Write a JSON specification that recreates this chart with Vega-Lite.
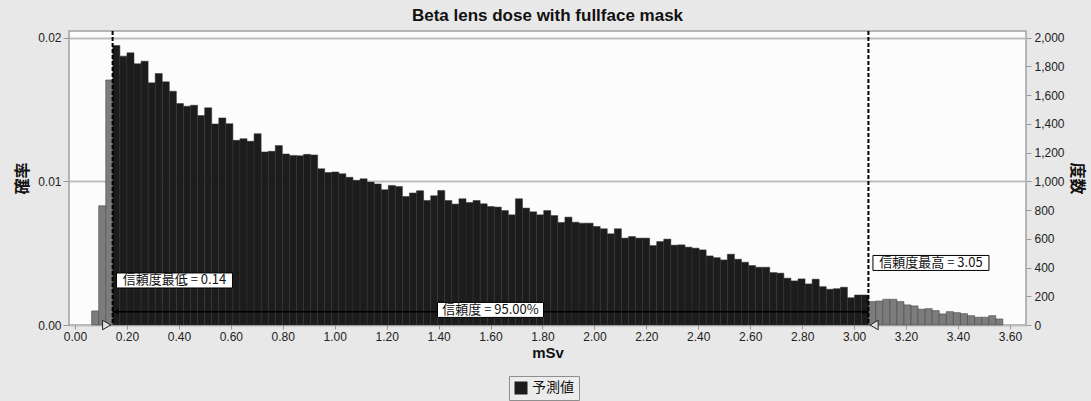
{
  "$schema": "https://vega.github.io/schema/vega-lite/v6.json",
  "autosize": {"type": "none"},
  "padding": {"left": 69, "top": 31, "right": 65, "bottom": 76},
  "width": 957,
  "height": 294,
  "background": "#e8e8e8",
  "title": {"text": "Beta lens dose with fullface mask", "font": "Liberation Sans", "fontSize": 17, "fontWeight": "bold", "color": "#111", "anchor": "middle", "offset": 5},
  "config": {
    "view": {"stroke": "#a0a0a0", "strokeWidth": 1.5, "fill": "#fcfcfc"},
    "axis": {"labelFont": "Liberation Sans", "labelFontSize": 12, "labelColor": "#222", "tickColor": "#999", "domain": false, "titleColor": "#111"}
  },
  "datasets": {
    "bins": [
      {"x0": 0.0640, "x1": 0.0912, "n": 98, "seg": "out", "series": "予測値"},
      {"x0": 0.0912, "x1": 0.1184, "n": 830, "seg": "out", "series": "予測値"},
      {"x0": 0.1184, "x1": 0.1456, "n": 1706, "seg": "out", "series": "予測値"},
      {"x0": 0.1456, "x1": 0.1728, "n": 1946, "seg": "in", "series": "予測値"},
      {"x0": 0.1728, "x1": 0.2000, "n": 1872, "seg": "in", "series": "予測値"},
      {"x0": 0.2000, "x1": 0.2272, "n": 1895, "seg": "in", "series": "予測値"},
      {"x0": 0.2272, "x1": 0.2544, "n": 1819, "seg": "in", "series": "予測値"},
      {"x0": 0.2544, "x1": 0.2816, "n": 1837, "seg": "in", "series": "予測値"},
      {"x0": 0.2816, "x1": 0.3088, "n": 1686, "seg": "in", "series": "予測値"},
      {"x0": 0.3088, "x1": 0.3360, "n": 1751, "seg": "in", "series": "予測値"},
      {"x0": 0.3360, "x1": 0.3632, "n": 1693, "seg": "in", "series": "予測値"},
      {"x0": 0.3632, "x1": 0.3904, "n": 1628, "seg": "in", "series": "予測値"},
      {"x0": 0.3904, "x1": 0.4176, "n": 1542, "seg": "in", "series": "予測値"},
      {"x0": 0.4176, "x1": 0.4448, "n": 1523, "seg": "in", "series": "予測値"},
      {"x0": 0.4448, "x1": 0.4720, "n": 1530, "seg": "in", "series": "予測値"},
      {"x0": 0.4720, "x1": 0.4992, "n": 1458, "seg": "in", "series": "予測値"},
      {"x0": 0.4992, "x1": 0.5264, "n": 1512, "seg": "in", "series": "予測値"},
      {"x0": 0.5264, "x1": 0.5536, "n": 1400, "seg": "in", "series": "予測値"},
      {"x0": 0.5536, "x1": 0.5808, "n": 1442, "seg": "in", "series": "予測値"},
      {"x0": 0.5808, "x1": 0.6080, "n": 1402, "seg": "in", "series": "予測値"},
      {"x0": 0.6080, "x1": 0.6352, "n": 1286, "seg": "in", "series": "予測値"},
      {"x0": 0.6352, "x1": 0.6624, "n": 1297, "seg": "in", "series": "予測値"},
      {"x0": 0.6624, "x1": 0.6896, "n": 1279, "seg": "in", "series": "予測値"},
      {"x0": 0.6896, "x1": 0.7168, "n": 1332, "seg": "in", "series": "予測値"},
      {"x0": 0.7168, "x1": 0.7440, "n": 1205, "seg": "in", "series": "予測値"},
      {"x0": 0.7440, "x1": 0.7712, "n": 1209, "seg": "in", "series": "予測値"},
      {"x0": 0.7712, "x1": 0.7984, "n": 1249, "seg": "in", "series": "予測値"},
      {"x0": 0.7984, "x1": 0.8256, "n": 1191, "seg": "in", "series": "予測値"},
      {"x0": 0.8256, "x1": 0.8528, "n": 1181, "seg": "in", "series": "予測値"},
      {"x0": 0.8528, "x1": 0.8800, "n": 1179, "seg": "in", "series": "予測値"},
      {"x0": 0.8800, "x1": 0.9072, "n": 1188, "seg": "in", "series": "予測値"},
      {"x0": 0.9072, "x1": 0.9344, "n": 1184, "seg": "in", "series": "予測値"},
      {"x0": 0.9344, "x1": 0.9616, "n": 1088, "seg": "in", "series": "予測値"},
      {"x0": 0.9616, "x1": 0.9888, "n": 1062, "seg": "in", "series": "予測値"},
      {"x0": 0.9888, "x1": 1.0160, "n": 1065, "seg": "in", "series": "予測値"},
      {"x0": 1.0160, "x1": 1.0432, "n": 1053, "seg": "in", "series": "予測値"},
      {"x0": 1.0432, "x1": 1.0704, "n": 1028, "seg": "in", "series": "予測値"},
      {"x0": 1.0704, "x1": 1.0976, "n": 1007, "seg": "in", "series": "予測値"},
      {"x0": 1.0976, "x1": 1.1248, "n": 1018, "seg": "in", "series": "予測値"},
      {"x0": 1.1248, "x1": 1.1520, "n": 995, "seg": "in", "series": "予測値"},
      {"x0": 1.1520, "x1": 1.1792, "n": 982, "seg": "in", "series": "予測値"},
      {"x0": 1.1792, "x1": 1.2064, "n": 942, "seg": "in", "series": "予測値"},
      {"x0": 1.2064, "x1": 1.2336, "n": 972, "seg": "in", "series": "予測値"},
      {"x0": 1.2336, "x1": 1.2608, "n": 965, "seg": "in", "series": "予測値"},
      {"x0": 1.2608, "x1": 1.2880, "n": 895, "seg": "in", "series": "予測値"},
      {"x0": 1.2880, "x1": 1.3152, "n": 919, "seg": "in", "series": "予測値"},
      {"x0": 1.3152, "x1": 1.3424, "n": 935, "seg": "in", "series": "予測値"},
      {"x0": 1.3424, "x1": 1.3696, "n": 867, "seg": "in", "series": "予測値"},
      {"x0": 1.3696, "x1": 1.3968, "n": 900, "seg": "in", "series": "予測値"},
      {"x0": 1.3968, "x1": 1.4240, "n": 937, "seg": "in", "series": "予測値"},
      {"x0": 1.4240, "x1": 1.4512, "n": 867, "seg": "in", "series": "予測値"},
      {"x0": 1.4512, "x1": 1.4784, "n": 842, "seg": "in", "series": "予測値"},
      {"x0": 1.4784, "x1": 1.5056, "n": 879, "seg": "in", "series": "予測値"},
      {"x0": 1.5056, "x1": 1.5328, "n": 853, "seg": "in", "series": "予測値"},
      {"x0": 1.5328, "x1": 1.5600, "n": 867, "seg": "in", "series": "予測値"},
      {"x0": 1.5600, "x1": 1.5872, "n": 844, "seg": "in", "series": "予測値"},
      {"x0": 1.5872, "x1": 1.6144, "n": 825, "seg": "in", "series": "予測値"},
      {"x0": 1.6144, "x1": 1.6416, "n": 821, "seg": "in", "series": "予測値"},
      {"x0": 1.6416, "x1": 1.6688, "n": 797, "seg": "in", "series": "予測値"},
      {"x0": 1.6688, "x1": 1.6960, "n": 767, "seg": "in", "series": "予測値"},
      {"x0": 1.6960, "x1": 1.7232, "n": 879, "seg": "in", "series": "予測値"},
      {"x0": 1.7232, "x1": 1.7504, "n": 814, "seg": "in", "series": "予測値"},
      {"x0": 1.7504, "x1": 1.7776, "n": 788, "seg": "in", "series": "予測値"},
      {"x0": 1.7776, "x1": 1.8048, "n": 767, "seg": "in", "series": "予測値"},
      {"x0": 1.8048, "x1": 1.8320, "n": 797, "seg": "in", "series": "予測値"},
      {"x0": 1.8320, "x1": 1.8592, "n": 762, "seg": "in", "series": "予測値"},
      {"x0": 1.8592, "x1": 1.8864, "n": 714, "seg": "in", "series": "予測値"},
      {"x0": 1.8864, "x1": 1.9136, "n": 751, "seg": "in", "series": "予測値"},
      {"x0": 1.9136, "x1": 1.9408, "n": 716, "seg": "in", "series": "予測値"},
      {"x0": 1.9408, "x1": 1.9680, "n": 709, "seg": "in", "series": "予測値"},
      {"x0": 1.9680, "x1": 1.9952, "n": 709, "seg": "in", "series": "予測値"},
      {"x0": 1.9952, "x1": 2.0224, "n": 686, "seg": "in", "series": "予測値"},
      {"x0": 2.0224, "x1": 2.0496, "n": 670, "seg": "in", "series": "予測値"},
      {"x0": 2.0496, "x1": 2.0768, "n": 635, "seg": "in", "series": "予測値"},
      {"x0": 2.0768, "x1": 2.1040, "n": 670, "seg": "in", "series": "予測値"},
      {"x0": 2.1040, "x1": 2.1312, "n": 605, "seg": "in", "series": "予測値"},
      {"x0": 2.1312, "x1": 2.1584, "n": 616, "seg": "in", "series": "予測値"},
      {"x0": 2.1584, "x1": 2.1856, "n": 605, "seg": "in", "series": "予測値"},
      {"x0": 2.1856, "x1": 2.2128, "n": 605, "seg": "in", "series": "予測値"},
      {"x0": 2.2128, "x1": 2.2400, "n": 553, "seg": "in", "series": "予測値"},
      {"x0": 2.2400, "x1": 2.2672, "n": 581, "seg": "in", "series": "予測値"},
      {"x0": 2.2672, "x1": 2.2944, "n": 598, "seg": "in", "series": "予測値"},
      {"x0": 2.2944, "x1": 2.3216, "n": 556, "seg": "in", "series": "予測値"},
      {"x0": 2.3216, "x1": 2.3488, "n": 558, "seg": "in", "series": "予測値"},
      {"x0": 2.3488, "x1": 2.3760, "n": 542, "seg": "in", "series": "予測値"},
      {"x0": 2.3760, "x1": 2.4032, "n": 535, "seg": "in", "series": "予測値"},
      {"x0": 2.4032, "x1": 2.4304, "n": 523, "seg": "in", "series": "予測値"},
      {"x0": 2.4304, "x1": 2.4576, "n": 481, "seg": "in", "series": "予測値"},
      {"x0": 2.4576, "x1": 2.4848, "n": 469, "seg": "in", "series": "予測値"},
      {"x0": 2.4848, "x1": 2.5120, "n": 453, "seg": "in", "series": "予測値"},
      {"x0": 2.5120, "x1": 2.5392, "n": 493, "seg": "in", "series": "予測値"},
      {"x0": 2.5392, "x1": 2.5664, "n": 458, "seg": "in", "series": "予測値"},
      {"x0": 2.5664, "x1": 2.5936, "n": 437, "seg": "in", "series": "予測値"},
      {"x0": 2.5936, "x1": 2.6208, "n": 414, "seg": "in", "series": "予測値"},
      {"x0": 2.6208, "x1": 2.6480, "n": 402, "seg": "in", "series": "予測値"},
      {"x0": 2.6480, "x1": 2.6752, "n": 402, "seg": "in", "series": "予測値"},
      {"x0": 2.6752, "x1": 2.7024, "n": 365, "seg": "in", "series": "予測値"},
      {"x0": 2.7024, "x1": 2.7296, "n": 361, "seg": "in", "series": "予測値"},
      {"x0": 2.7296, "x1": 2.7568, "n": 326, "seg": "in", "series": "予測値"},
      {"x0": 2.7568, "x1": 2.7840, "n": 307, "seg": "in", "series": "予測値"},
      {"x0": 2.7840, "x1": 2.8112, "n": 321, "seg": "in", "series": "予測値"},
      {"x0": 2.8112, "x1": 2.8384, "n": 286, "seg": "in", "series": "予測値"},
      {"x0": 2.8384, "x1": 2.8656, "n": 319, "seg": "in", "series": "予測値"},
      {"x0": 2.8656, "x1": 2.8928, "n": 267, "seg": "in", "series": "予測値"},
      {"x0": 2.8928, "x1": 2.9200, "n": 249, "seg": "in", "series": "予測値"},
      {"x0": 2.9200, "x1": 2.9472, "n": 253, "seg": "in", "series": "予測値"},
      {"x0": 2.9472, "x1": 2.9744, "n": 263, "seg": "in", "series": "予測値"},
      {"x0": 2.9744, "x1": 3.0016, "n": 190, "seg": "in", "series": "予測値"},
      {"x0": 3.0016, "x1": 3.0288, "n": 209, "seg": "in", "series": "予測値"},
      {"x0": 3.0288, "x1": 3.0560, "n": 209, "seg": "in", "series": "予測値"},
      {"x0": 3.0560, "x1": 3.0832, "n": 163, "seg": "out", "series": "予測値"},
      {"x0": 3.0832, "x1": 3.1104, "n": 167, "seg": "out", "series": "予測値"},
      {"x0": 3.1104, "x1": 3.1376, "n": 179, "seg": "out", "series": "予測値"},
      {"x0": 3.1376, "x1": 3.1648, "n": 179, "seg": "out", "series": "予測値"},
      {"x0": 3.1648, "x1": 3.1920, "n": 163, "seg": "out", "series": "予測値"},
      {"x0": 3.1920, "x1": 3.2192, "n": 140, "seg": "out", "series": "予測値"},
      {"x0": 3.2192, "x1": 3.2464, "n": 133, "seg": "out", "series": "予測値"},
      {"x0": 3.2464, "x1": 3.2736, "n": 110, "seg": "out", "series": "予測値"},
      {"x0": 3.2736, "x1": 3.3008, "n": 114, "seg": "out", "series": "予測値"},
      {"x0": 3.3008, "x1": 3.3280, "n": 100, "seg": "out", "series": "予測値"},
      {"x0": 3.3280, "x1": 3.3552, "n": 77, "seg": "out", "series": "予測値"},
      {"x0": 3.3552, "x1": 3.3824, "n": 93, "seg": "out", "series": "予測値"},
      {"x0": 3.3824, "x1": 3.4096, "n": 86, "seg": "out", "series": "予測値"},
      {"x0": 3.4096, "x1": 3.4368, "n": 79, "seg": "out", "series": "予測値"},
      {"x0": 3.4368, "x1": 3.4640, "n": 65, "seg": "out", "series": "予測値"},
      {"x0": 3.4640, "x1": 3.4912, "n": 54, "seg": "out", "series": "予測値"},
      {"x0": 3.4912, "x1": 3.5184, "n": 54, "seg": "out", "series": "予測値"},
      {"x0": 3.5184, "x1": 3.5456, "n": 65, "seg": "out", "series": "予測値"},
      {"x0": 3.5456, "x1": 3.5728, "n": 42, "seg": "out", "series": "予測値"}
    ],
    "bounds": [
      {"v": 0.1448, "side": "low"},
      {"v": 3.0552, "side": "high"}
    ],
    "span": [
      {"from": 0.1448, "to": 3.0552, "n": 93}
    ],
    "heads": [
      {"v": 0.158, "n": 93, "dir": "left"},
      {"v": 3.042, "n": 93, "dir": "right"}
    ],
    "grips": [
      {"v": 0.122, "n": 0, "dir": "right"},
      {"v": 3.077, "n": 0, "dir": "left"}
    ],
    "notes": [
      {"x": 0.383, "n": 310, "label": "信頼度最低 = 0.14", "kind": "wide"},
      {"x": 1.600, "n": 105, "label": "信頼度 = 95.00%", "kind": "narrow"},
      {"x": 3.296, "n": 432, "label": "信頼度最高 = 3.05", "kind": "wide"}
    ]
  },
  "resolve": {"axis": {"y": "independent"}},
  "layer": [
    {
      "data": {"name": "bins"},
      "transform": [{"filter": "datum.seg === 'out'"}],
      "mark": {"type": "rect", "fill": "#7c7c7c", "stroke": "#4a4a4a", "strokeWidth": 0.6},
      "encoding": {
        "x": {"field": "x0", "type": "quantitative", "scale": {"domain": [-0.0231, 3.662], "nice": false, "zero": false},
              "axis": {"values": [0, 0.2, 0.4, 0.6, 0.8, 1.0, 1.2, 1.4, 1.6, 1.8, 2.0, 2.2, 2.4, 2.6, 2.8, 3.0, 3.2, 3.4, 3.6], "format": ".2f", "tickSize": 4, "labelPadding": 2, "grid": false,
                       "title": "mSv", "titleFont": "Liberation Sans", "titleFontSize": 15, "titleFontWeight": "bold", "titlePadding": 3}},
        "x2": {"field": "x1"},
        "y": {"field": "n", "type": "quantitative", "scale": {"domain": [0, 2047], "nice": false},
              "axis": {"orient": "left", "values": [0, 1000, 2000], "labelExpr": "format(datum.value / 100000, '.2f')", "tickSize": 6, "labelPadding": 2,
                       "grid": true, "gridColor": "#bdbdbd", "gridWidth": 2,
                       "title": "確率", "titleFont": "Noto Sans CJK JP", "titleFontSize": 16, "titleFontWeight": "bold", "titlePadding": 7}},
        "y2": {"datum": 0}
      }
    },
    {
      "data": {"name": "bins"},
      "transform": [{"filter": "datum.seg === 'in'"}],
      "mark": {"type": "rect", "stroke": "#303030", "strokeWidth": 0.5},
      "encoding": {
        "x": {"field": "x0", "type": "quantitative"},
        "x2": {"field": "x1"},
        "y": {"field": "n", "type": "quantitative",
              "axis": {"orient": "right", "values": [0, 200, 400, 600, 800, 1000, 1200, 1400, 1600, 1800, 2000], "format": ",d", "tickSize": 5, "labelPadding": 3, "grid": false,
                       "title": "度数", "titleFont": "Noto Sans CJK JP", "titleFontSize": 16, "titleFontWeight": "bold", "titlePadding": 4}},
        "y2": {"datum": 0},
        "color": {"field": "series", "type": "nominal", "scale": {"range": ["#1c1c1c"]},
                  "legend": {"title": null, "orient": "none", "legendX": 440, "legendY": 345, "symbolType": "square", "symbolSize": 169, "symbolStrokeWidth": 0,
                             "labelFont": "Noto Sans CJK JP", "labelFontSize": 14, "labelColor": "#111", "labelOffset": 4, "padding": 5,
                             "strokeColor": "#8f8f8f", "fillColor": "#ececec"}}
      }
    },
    {
      "data": {"name": "bounds"},
      "mark": {"type": "rule", "color": "#000", "strokeWidth": 2, "strokeDash": [4, 2]},
      "encoding": {"x": {"field": "v", "type": "quantitative"}}
    },
    {
      "data": {"name": "span"},
      "mark": {"type": "rule", "color": "#000", "strokeWidth": 1.5},
      "encoding": {
        "x": {"field": "from", "type": "quantitative"},
        "x2": {"field": "to"},
        "y": {"field": "n", "type": "quantitative", "axis": null}
      }
    },
    {
      "data": {"name": "heads"},
      "mark": {"type": "point", "filled": true, "color": "#000", "size": 35},
      "encoding": {
        "x": {"field": "v", "type": "quantitative"},
        "y": {"field": "n", "type": "quantitative", "axis": null},
        "shape": {"field": "dir", "type": "nominal", "scale": {"domain": ["left", "right"], "range": ["triangle-left", "triangle-right"]}, "legend": null}
      }
    },
    {
      "data": {"name": "grips"},
      "mark": {"type": "point", "filled": true, "fill": "#dddddd", "stroke": "#222", "strokeWidth": 1, "size": 90, "opacity": 1},
      "encoding": {
        "x": {"field": "v", "type": "quantitative"},
        "y": {"field": "n", "type": "quantitative", "axis": null},
        "shape": {"field": "dir", "type": "nominal", "scale": {"domain": ["left", "right"], "range": ["triangle-left", "triangle-right"]}, "legend": null}
      }
    },
    {
      "data": {"name": "notes"},
      "transform": [{"filter": "datum.kind === 'wide'"}],
      "mark": {"type": "rect", "width": 116, "height": 15, "fill": "#ffffff", "stroke": "#000", "strokeWidth": 1},
      "encoding": {
        "x": {"field": "x", "type": "quantitative"},
        "y": {"field": "n", "type": "quantitative", "axis": null}
      }
    },
    {
      "data": {"name": "notes"},
      "transform": [{"filter": "datum.kind === 'narrow'"}],
      "mark": {"type": "rect", "width": 106, "height": 15, "fill": "#ffffff", "stroke": "#000", "strokeWidth": 1},
      "encoding": {
        "x": {"field": "x", "type": "quantitative"},
        "y": {"field": "n", "type": "quantitative", "axis": null}
      }
    },
    {
      "data": {"name": "notes"},
      "mark": {"type": "text", "font": "Noto Sans CJK JP", "fontSize": 13, "color": "#111", "align": "center", "baseline": "middle"},
      "encoding": {
        "x": {"field": "x", "type": "quantitative"},
        "y": {"field": "n", "type": "quantitative", "axis": null},
        "text": {"field": "label"}
      }
    }
  ]
}
